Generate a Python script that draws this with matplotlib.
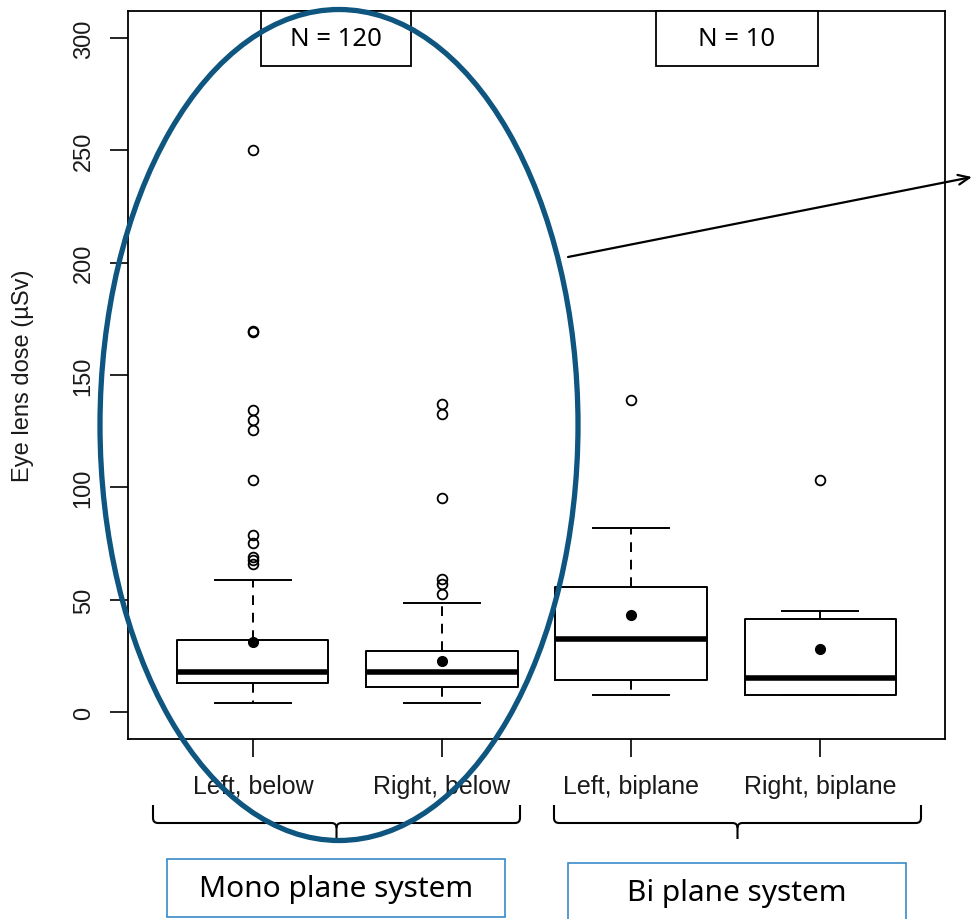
import matplotlib
matplotlib.use('Agg')
import matplotlib.pyplot as plt
from matplotlib.patches import Ellipse, Rectangle, PathPatch
from matplotlib.path import Path

# ── Data ──────────────────────────────────────────────────────────────────────
groups   = ['Left, below', 'Right, below', 'Left, biplane', 'Right, biplane']
q1       = [13.0, 11.3, 14.2, 7.7]
medians  = [17.9, 17.9, 32.7, 15.3]
q3       = [32.0, 27.3, 55.7, 41.2]
whis_lo  = [3.9, 3.9, 7.7, 7.7]
whis_hi  = [58.7, 48.6, 82.0, 44.9]
means    = [31.0, 22.5, 43.0, 28.1]
outliers = [
    [250.0, 169.5, 169.0, 134.5, 130.0, 125.5, 103.4, 78.6, 75.4, 69.0, 67.5, 66.0],
    [137.3, 132.5, 95.1, 59.0, 56.9, 52.4],
    [138.7],
    [103.4],
]
yticks = [0, 50, 100, 150, 200, 250, 300]

n_labels  = ['N = 120', 'N = 10']
sys_names = ['Mono plane system', 'Bi plane system']

# ── Styling ───────────────────────────────────────────────────────────────────
BLUE  = '#0E5580'
LBLUE = '#3A8BC8'
TXT   = '#1a1a1a'
R_FONT = 'Liberation Sans'
UI_FONT = 'Noto Sans'

W, H = 972, 920
fig = plt.figure(figsize=(W / 100, H / 100), dpi=100, facecolor='white')
ax = fig.add_axes([128 / W, 1 - 740 / H, 817 / W, 728 / H])

stats = []
for i, g in enumerate(groups):
    stats.append(dict(label=g, q1=q1[i], med=medians[i], q3=q3[i],
                      whislo=whis_lo[i], whishi=whis_hi[i],
                      mean=means[i], fliers=outliers[i]))

ax.bxp(stats, positions=[1, 2, 3, 4], widths=0.8, capwidths=0.4,
       showmeans=True,
       boxprops=dict(color='black', lw=1.4),
       medianprops=dict(color='black', lw=4),
       whiskerprops=dict(color='black', lw=1.4, ls=(0, (5, 4))),
       capprops=dict(color='black', lw=1.4),
       flierprops=dict(marker='o', mfc='none', mec='black', ms=7, mew=1.3),
       meanprops=dict(marker='o', mfc='black', mec='black', ms=7))

ax.set_xlim(0.34, 4.66)
ax.set_ylim(-12, 312)
ax.set_yticks(yticks)
ax.set_yticklabels([str(t) for t in yticks], rotation=90, va='center',
                   fontsize=17, family=R_FONT, color=TXT)
ax.set_xticklabels(groups, fontsize=18, family=R_FONT, color=TXT)
ax.tick_params(axis='both', length=13, width=1.2, color='black')
ax.tick_params(axis='y', pad=11)
ax.tick_params(axis='x', pad=12)
for s in ax.spines.values():
    s.set_linewidth(1.3)
    s.set_color('black')

fig.text(23 / W, 1 - 376 / H, 'Eye lens dose (µSv)', rotation=90,
         ha='center', va='center', fontsize=17, family=R_FONT, color=TXT)

# ── Overlay annotations in pixel coordinates ──────────────────────────────────
ov = fig.add_axes([0, 0, 1, 1], facecolor='none')
ov.set_xlim(0, W)
ov.set_ylim(H, 0)
ov.axis('off')

# N = ... boxes at the top
for (x0, x1), lab in zip([(261, 411), (656, 818)], n_labels):
    ov.add_patch(Rectangle((x0, 12), x1 - x0, 55, facecolor='white',
                           edgecolor='black', lw=1.3, zorder=2))
    ov.text((x0 + x1) / 2, 40, lab, ha='center', va='center',
            fontsize=18.5, family=UI_FONT, zorder=3)

# curly braces under tick labels
def brace(x0, x1, ytop, ymid, ytip, r=5):
    xc = (x0 + x1) / 2
    codes = [Path.MOVETO, Path.LINETO, Path.CURVE3, Path.CURVE3, Path.LINETO,
             Path.CURVE3, Path.CURVE3, Path.LINETO]
    left = [(x0, ytop), (x0, ymid - r), (x0, ymid), (x0 + r, ymid),
            (xc - r, ymid), (xc, ymid), (xc, ymid + r), (xc, ytip)]
    right = [(x1, ytop), (x1, ymid - r), (x1, ymid), (x1 - r, ymid),
             (xc + r, ymid), (xc, ymid), (xc, ymid + r), (xc, ymid + r)]
    for v in (left, right):
        ov.add_patch(PathPatch(Path(v, codes), facecolor='none',
                               edgecolor='black', lw=1.5, zorder=2))

brace(153, 520, 806, 824, 840)
brace(554, 921, 806, 824, 840)

# system boxes
for (x0, x1, y0), lab in zip([(167, 505, 860), (568, 906, 864)], sys_names):
    ov.add_patch(Rectangle((x0, y0), x1 - x0, 58, facecolor='white',
                           edgecolor=LBLUE, lw=1.2, zorder=2))
    ov.text((x0 + x1) / 2, y0 + 30, lab, ha='center', va='center',
            fontsize=21.5, family=UI_FONT, zorder=3)

# highlight ellipse and arrow
ov.add_patch(Ellipse((339, 426), 478, 831, facecolor='none',
                     edgecolor=BLUE, lw=3.8, zorder=5))
ov.annotate('', xy=(972, 178), xytext=(568, 258),
            arrowprops=dict(arrowstyle='->,head_width=0.35,head_length=0.8',
                            color='black', lw=1.6, shrinkA=0, shrinkB=0),
            zorder=5)

fig.savefig('out.png', dpi=100, facecolor='white')
